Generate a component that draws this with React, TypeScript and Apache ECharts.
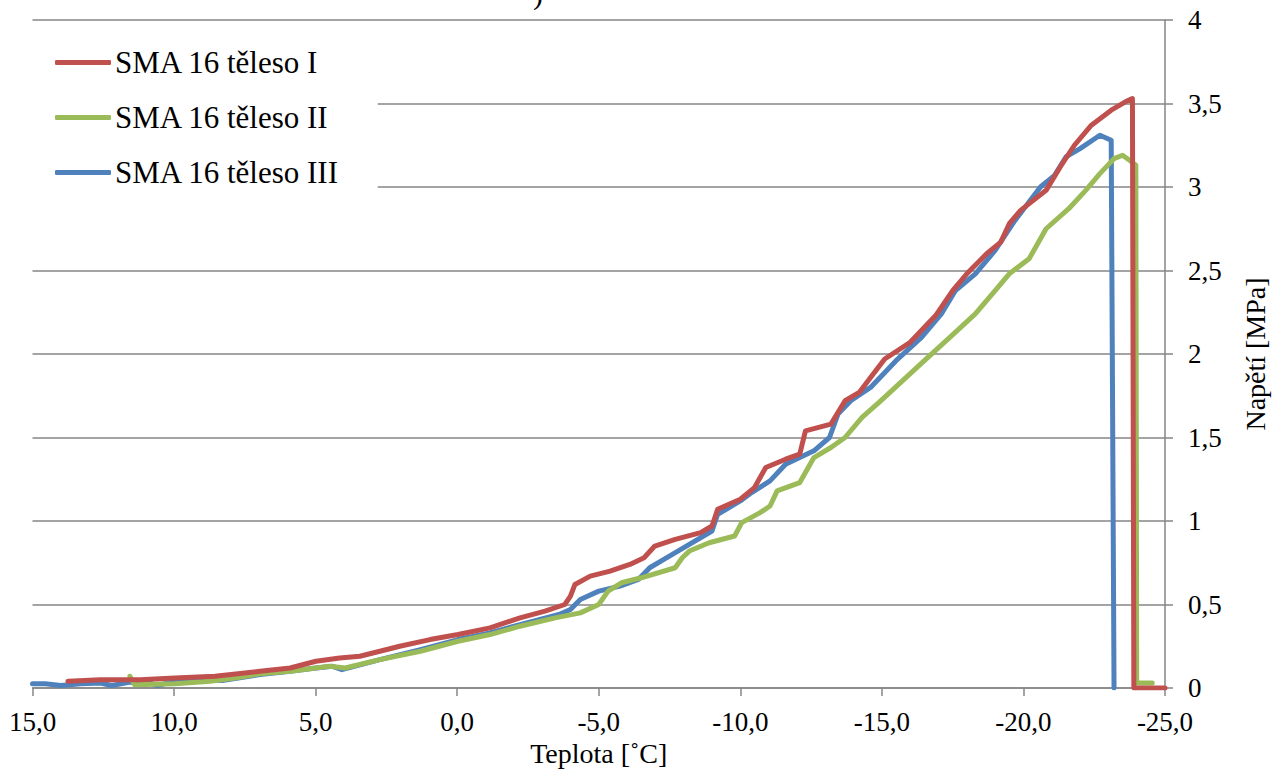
import React, { useEffect, useRef } from "react";
import * as echarts from "echarts";

const seriesNames = ["SMA 16 těleso I", "SMA 16 těleso II", "SMA 16 těleso III"];
const xAxisTitle = "Teplota [˚C]";
const yAxisTitle = "Napětí [MPa]";

const tempI = [13.75, 12.6, 11.2, 9.97, 8.55, 6.96, 5.9, 4.99, 4.15, 3.44, 2.73, 2.03, 0.96, -0.03, -1.16, -2.22, -3.1, -3.8, -4.0, -4.16, -4.7, -5.4, -6.1, -6.6, -6.98, -7.7, -8.6, -9.0, -9.2, -10.0, -10.5, -10.9, -11.6, -12.1, -12.3, -13.2, -13.7, -14.2, -14.6, -15.1, -16.0, -16.9, -17.5, -18.0, -18.7, -19.2, -19.5, -19.9, -20.8, -21.3, -21.8, -22.4, -23.1, -23.6, -23.85, -23.9, -25.0];
const stressI = [0.04, 0.05, 0.05, 0.06, 0.07, 0.1, 0.12, 0.16, 0.18, 0.19, 0.22, 0.25, 0.29, 0.32, 0.36, 0.42, 0.46, 0.5, 0.55, 0.62, 0.67, 0.7, 0.74, 0.78, 0.85, 0.89, 0.93, 0.97, 1.07, 1.13, 1.2, 1.32, 1.37, 1.4, 1.54, 1.58, 1.72, 1.77, 1.86, 1.97, 2.07, 2.23, 2.38, 2.48, 2.6, 2.67, 2.78, 2.86, 2.98, 3.12, 3.25, 3.37, 3.46, 3.51, 3.53, 0.0, 0.0];

const tempII = [11.56, 11.4, 9.97, 8.73, 7.85, 6.96, 5.9, 4.99, 4.5, 3.96, 2.73, 1.3, -0.03, -1.16, -2.22, -3.46, -4.35, -5.0, -5.33, -5.8, -6.5, -7.7, -7.95, -8.2, -8.9, -9.8, -10.05, -10.7, -11.05, -11.3, -12.1, -12.6, -13.2, -13.7, -14.3, -14.9, -15.6, -16.5, -17.4, -18.3, -19.0, -19.5, -20.2, -20.8, -21.6, -22.2, -22.7, -23.2, -23.5, -23.75, -23.97, -24.0, -24.55];
const stressII = [0.07, 0.02, 0.025, 0.04, 0.06, 0.085, 0.1, 0.12, 0.13, 0.12, 0.17, 0.22, 0.28, 0.32, 0.37, 0.42, 0.45, 0.5, 0.58, 0.63, 0.66, 0.72, 0.78, 0.82, 0.87, 0.91, 0.99, 1.05, 1.09, 1.18, 1.23, 1.38, 1.44, 1.5, 1.62, 1.71, 1.82, 1.96, 2.1, 2.24, 2.38, 2.48, 2.57, 2.75, 2.87, 2.98, 3.08, 3.17, 3.19, 3.16, 3.13, 0.03, 0.03];

const tempIII = [15.0, 14.55, 14.0, 13.3, 12.6, 12.2, 11.55, 10.85, 10.6, 9.97, 8.73, 8.3, 6.96, 5.9, 4.99, 4.4, 4.07, 2.73, 1.3, -0.03, -1.16, -2.22, -3.6, -4.0, -4.35, -5.0, -5.75, -6.4, -6.8, -7.3, -8.2, -9.0, -9.2, -10.0, -10.4, -11.05, -11.6, -12.6, -13.15, -13.45, -13.9, -14.6, -15.5, -16.4, -17.1, -17.6, -18.3, -19.0, -19.7, -20.6, -21.1, -21.5, -22.0, -22.7, -23.1, -23.2];
const stressIII = [0.025, 0.025, 0.015, 0.025, 0.03, 0.015, 0.035, 0.03, 0.015, 0.04, 0.05, 0.045, 0.08, 0.1, 0.12, 0.13, 0.11, 0.17, 0.23, 0.29, 0.33, 0.38, 0.44, 0.47, 0.53, 0.58, 0.61, 0.65, 0.72, 0.77, 0.86, 0.94, 1.04, 1.12, 1.17, 1.24, 1.34, 1.42, 1.5, 1.64, 1.72, 1.8, 1.96, 2.1, 2.24, 2.38, 2.48, 2.62, 2.8, 3.0, 3.07, 3.18, 3.23, 3.31, 3.28, 0.0];

const colors = ["#C0504D", "#9BBB59", "#4F81BD"];
const FONT = "'Liberation Serif', 'Times New Roman', serif";
const GRAY = "#868686";

const pairs = (xs: number[], ys: number[]) => xs.map((x, i) => [x, ys[i]]);

export default function App() {
  const ref = useRef<HTMLDivElement>(null);
  useEffect(() => {
    const chart = echarts.init(ref.current!, null, { renderer: "svg" });
    const datasets = [pairs(tempI, stressI), pairs(tempII, stressII), pairs(tempIII, stressIII)];
    chart.setOption({
      animation: false,
      backgroundColor: "#ffffff",
      color: colors,
      textStyle: { fontFamily: FONT, color: "#000" },
      grid: { left: 32.5, right: 114, top: 20, bottom: 83, containLabel: false, outerBoundsMode: "none" },
      graphic: [
        {
          type: "text",
          left: 533,
          top: -22,
          style: { text: ")", font: `30px ${FONT}`, fill: "#000" },
        },
      ],
      legend: {
        orient: "vertical",
        left: 31,
        top: 30,
        padding: [17, 38, 18, 24],
        backgroundColor: "#ffffff",
        itemWidth: 56,
        itemHeight: 5,
        itemGap: 24,
        icon: "roundRect",
        textStyle: { fontFamily: FONT, fontSize: 31, color: "#000", padding: [0, 0, 0, -1] },
        data: seriesNames,
      },
      xAxis: {
        type: "value",
        inverse: true,
        min: -25,
        max: 15,
        interval: 5,
        name: xAxisTitle,
        nameLocation: "middle",
        nameGap: 46,
        nameTextStyle: { fontFamily: FONT, fontSize: 28, color: "#000" },
        axisLine: { show: true, onZero: false, lineStyle: { color: GRAY, width: 1.5 } },
        axisTick: { show: true, inside: false, length: 8, lineStyle: { color: GRAY, width: 1.5 } },
        axisLabel: {
          margin: 20,
          fontFamily: FONT,
          fontSize: 27,
          color: "#000",
          formatter: (v: number) => v.toFixed(1).replace(".", ","),
        },
        splitLine: { show: false },
      },
      yAxis: {
        type: "value",
        position: "right",
        min: 0,
        max: 4,
        interval: 0.5,
        name: yAxisTitle,
        nameLocation: "middle",
        nameRotate: 90,
        nameGap: 76,
        nameTextStyle: { fontFamily: FONT, fontSize: 28, color: "#000" },
        axisLine: { show: true, onZero: false, lineStyle: { color: GRAY, width: 1.5 } },
        axisTick: { show: true, inside: false, length: 8, lineStyle: { color: GRAY, width: 1.5 } },
        axisLabel: {
          margin: 23,
          fontFamily: FONT,
          fontSize: 27,
          color: "#000",
          formatter: (v: number) => String(v).replace(".", ","),
        },
        splitLine: { show: true, lineStyle: { color: GRAY, width: 1.5 } },
      },
      series: seriesNames.map((name, i) => ({
        name,
        type: "line",
        data: datasets[i],
        showSymbol: false,
        symbol: "none",
        smooth: false,
        lineStyle: { width: 5, color: colors[i], cap: "round", join: "round" },
        itemStyle: { color: colors[i] },
        z: 5 - i,
      })),
    });
    return () => chart.dispose();
  }, []);
  return (
    <div
      ref={ref}
      style={{ position: "absolute", left: 0, top: 0, width: 1279, height: 771 }}
    />
  );
}
